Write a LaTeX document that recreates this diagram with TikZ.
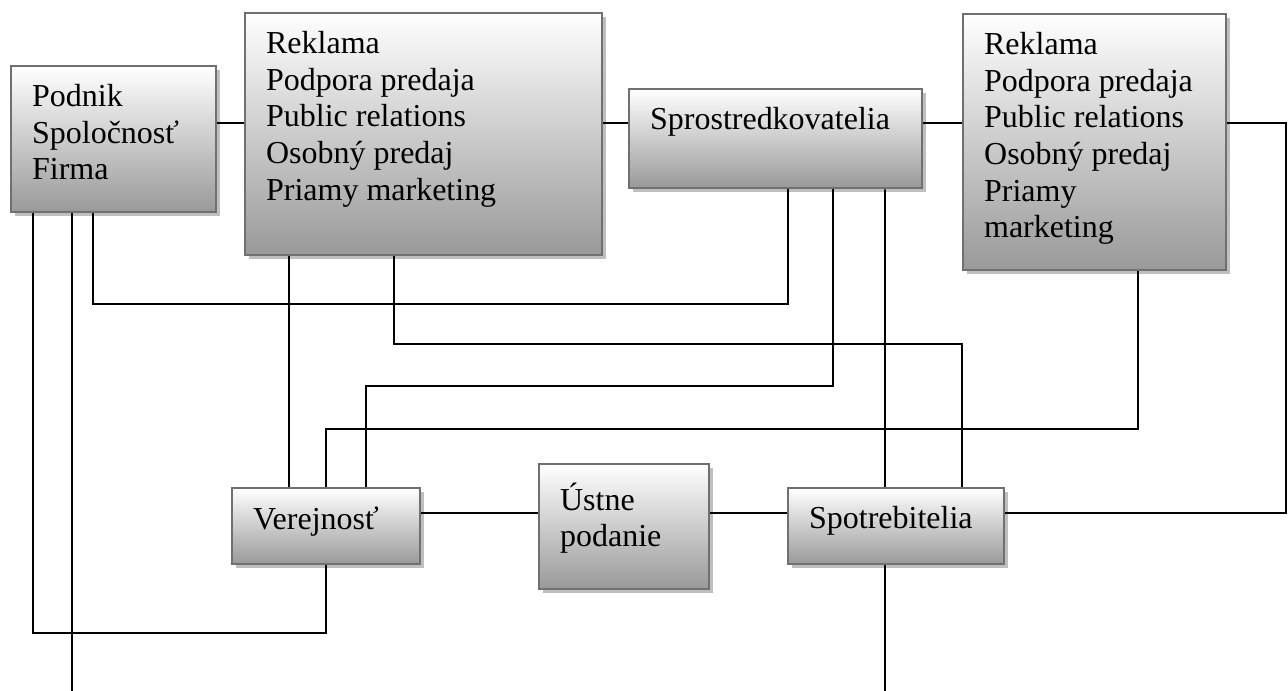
\documentclass[tikz,border=0pt]{standalone}
\usepackage{fontspec}
\setmainfont{Liberation Serif}
\usepackage{tikz}
\usetikzlibrary{shadows}
\definecolor{boxline}{HTML}{707070}
\definecolor{boxshade}{HTML}{999999}
\newcommand{\boxtext}[3]{\parbox[t][#2][t]{#1}{\raggedright #3}}

\begin{document}
\begin{tikzpicture}[
    box/.style={draw=boxline, line width=1.3pt, top color=white, bottom color=boxshade,
      drop shadow={shadow xshift=0.08cm, shadow yshift=-0.08cm, fill=black!25, opacity=1},
      anchor=north west, inner xsep=0.42cm, inner ysep=0.37cm,
      font=\fontsize{18.2pt}{20.8pt}\selectfont},
    link/.style={line width=1.1pt}]
  \useasboundingbox (0,0) rectangle (25.76,13.8);
  \node[box] (firma) at (0.2,12.5) {\boxtext{3.26cm}{2.18cm}{Podnik\\Spoločnosť\\Firma}};
  \node[box] (mix1) at (4.88,13.56) {\boxtext{6.30cm}{4.10cm}{Reklama\\Podpora predaja\\Public relations\\Osobný predaj\\Priamy marketing}};
  \node[box] (sprostr) at (12.56,12.04) {\boxtext{5.02cm}{1.24cm}{Sprostredkovatelia}};
  \node[box] (mix2) at (19.24,13.54) {\boxtext{4.42cm}{4.38cm}{Reklama\\Podpora predaja\\Public relations\\Osobný predaj\\Priamy\\marketing}};
  \node[box] (verejnost) at (4.62,4.06) {\boxtext{2.92cm}{0.78cm}{Verejnosť}};
  \node[box] (ustne) at (10.76,4.54) {\boxtext{2.56cm}{1.76cm}{Ústne\\podanie}};
  \node[box] (spotreb) at (15.74,4.06) {\boxtext{3.48cm}{0.78cm}{Spotrebitelia}};
  \coordinate (upper) at (0,11.34);
  \coordinate (lower) at (0,3.54);
  \draw[link] (firma.east |- upper) -- (mix1.west |- upper);
  \draw[link] (mix1.east |- upper) -- (sprostr.west |- upper);
  \draw[link] (sprostr.east |- upper) -- (mix2.west |- upper);
  \draw[link] (mix2.east |- upper) -- ++(1.18,0) |- (spotreb.east |- lower);
  \draw[link] (verejnost.east |- lower) -- (ustne.west |- lower);
  \draw[link] (ustne.east |- lower) -- (spotreb.west |- lower);
  \draw[link] ([xshift=0.46cm]firma.south west) -- ++(0,-8.4) -| (verejnost.south);
  \draw[link] ([xshift=1.24cm]firma.south west) -- ++(0,-9.58);
  \draw[link] ([xshift=1.66cm]firma.south west) -- ++(0,-1.82) -| ([xshift=3.2cm]sprostr.south west);
  \draw[link] ([xshift=0.9cm]mix1.south west) -- ([xshift=1.16cm]verejnost.north west);
  \draw[link] ([xshift=3cm]mix1.south west) -- ++(0,-1.76) -| ([xshift=3.5cm]spotreb.north west);
  \draw[link] ([xshift=4.1cm]sprostr.south west) -- ++(0,-3.94) -| ([xshift=2.7cm]verejnost.north west);
  \draw[link] ([xshift=5.14cm]sprostr.south west) -- ([xshift=1.96cm]spotreb.north west);
  \draw[link] ([xshift=3.52cm]mix2.south west) -- ++(0,-3.16) -| (verejnost.north);
  \draw[link] ([xshift=1.96cm]spotreb.south west) -- ++(0,-2.54);
\end{tikzpicture}
\end{document}
